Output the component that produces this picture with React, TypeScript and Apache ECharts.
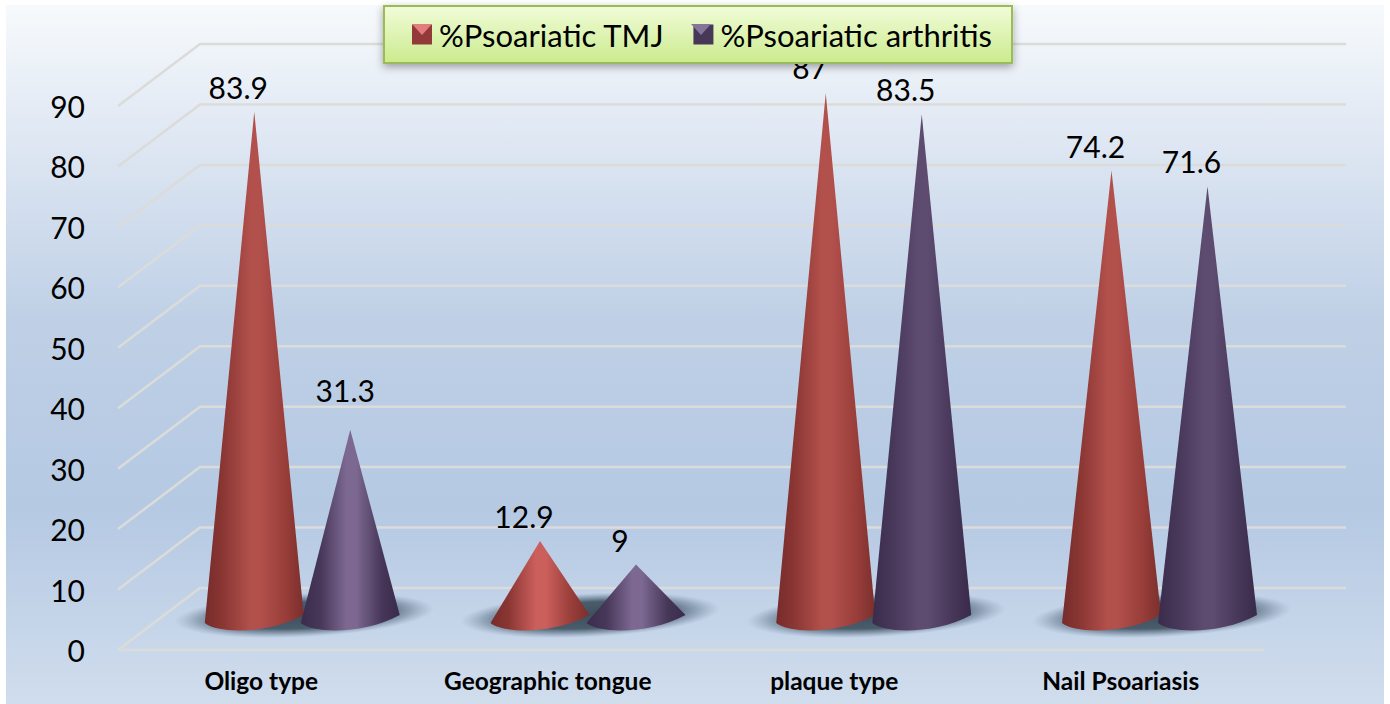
import React, { useEffect, useRef } from "react";
import * as echarts from "echarts";

const categories = ["Oligo type", "Geographic tongue", "plaque type", "Nail Psoariasis"];
const tmjValues = [83.9, 12.9, 87, 74.2];
const arthritisValues = [31.3, 9, 83.5, 71.6];
const yTicks = [0, 10, 20, 30, 40, 50, 60, 70, 80, 90];
const SERIES_A = "%Psoariatic TMJ";
const SERIES_B = "%Psoariatic arthritis";

const FONT = "Lato, Carlito, Calibri, sans-serif";
const DEPTH_X = 82;
const DEPTH_Y = 62;
const MID_X = 41;
const MID_Y = 31;
const PAIR_GAP = 48;
const HALF_BASE = 49.5;
const DRIFT = 0.75;

function hGrad(stops: [number, string][]) {
  return {
    type: "linear", x: 0, y: 0, x2: 1, y2: 0,
    colorStops: stops.map(([offset, color]) => ({ offset, color })),
  };
}
const redGrad = (hi: string) => hGrad([[0, "#762c2b"], [0.18, "#8a3633"], [0.46, hi], [0.56, hi], [0.82, "#983d39"], [1, "#7a2f2d"]]);
const purpleGrad = (hi: string) => hGrad([[0, "#3b2c4c"], [0.2, "#473759"], [0.46, hi], [0.56, hi], [0.82, "#463658"], [1, "#3a2b4a"]]);

function coneSeries(name: string, values: number[], side: number, grad: (h: string) => any, hiTall: string, hiShort: string) {
  return {
    type: "custom", name, z: 3, clip: false,
    data: values.map((v, i) => [categories[i], v]),
    encode: { x: 0, y: 1 },
    itemStyle: { color: side < 0 ? "#93393a" : "#483858" },
    renderItem: (params: any, api: any) => {
      const v = api.value(1);
      const p = api.coord([api.value(0), v]);
      const tx = p[0] + MID_X + side * PAIR_GAP - params.dataIndex * DRIFT;
      const ty = p[1] - MID_Y;
      const l = tx - HALF_BASE;
      const r = tx + HALF_BASE;
      const base = api.coord([api.value(0), 0])[1] - MID_Y;
      const d = `M${tx} ${ty}L${l} ${base + 4}C${l + 14} ${base + 15} ${l + 64} ${base + 15} ${r} ${base - 4}Z`;
      const dx = v === 31.3 ? -5 : -16;
      const dy = v === 31.3 ? -40 : v === 87 ? -26 : -25;
      return {
        type: "group",
        children: [
          { type: "path", shape: { pathData: d }, style: { fill: grad(v < 40 ? hiShort : hiTall) } },
          {
            type: "text",
            style: {
              text: String(v), x: tx + dx, y: ty + dy,
              textAlign: "center", textVerticalAlign: "middle", font: `30px ${FONT}`, fill: "#000",
            },
          },
        ],
      };
    },
  };
}

const option: any = {
  animation: false,
  tooltip: { show: false },
  graphic: [
    {
      type: "rect", z: -10, silent: true,
      shape: { x: 6, y: 5, width: 1378, height: 699 },
      style: {
        fill: {
          type: "linear", x: 0, y: 0, x2: 0, y2: 1,
          colorStops: [
            { offset: 0, color: "#f7fafc" },
            { offset: 0.15, color: "#e4ebf5" },
            { offset: 0.45, color: "#bfd0e6" },
            { offset: 0.72, color: "#b5c9e3" },
            { offset: 1, color: "#d0dded" },
          ],
        },
      },
    },
    { type: "polygon", z: 20, silent: true, shape: { points: [[412, 24], [432, 24], [422, 35]] }, style: { fill: "#e27d7b" } },
    { type: "polygon", z: 20, silent: true, shape: { points: [[691, 24], [711, 24], [701, 35]] }, style: { fill: "#86759b" } },
  ],
  legend: {
    left: 384, top: 6, orient: "horizontal",
    data: [SERIES_A, SERIES_B],
    icon: "rect", itemWidth: 20, itemHeight: 20, itemGap: 29,
    padding: [13, 20, 13, 28],
    backgroundColor: {
      type: "linear", x: 0, y: 0, x2: 0, y2: 1,
      colorStops: [{ offset: 0, color: "#f1fcd8" }, { offset: 1, color: "#cbeb8e" }],
    },
    borderColor: "#9bbb59", borderWidth: 2,
    shadowBlur: 8, shadowColor: "rgba(0,0,0,0.35)", shadowOffsetY: 3,
    textStyle: { fontFamily: FONT, fontSize: 31, color: "#000", padding: [0, 0, 0, 2] },
    selectedMode: false,
  },
  grid: { left: 118, right: 126, top: 106, bottom: 54, containLabel: false },
  xAxis: {
    type: "category", data: categories,
    axisLine: { show: false }, axisTick: { show: false }, splitLine: { show: false },
    axisLabel: { fontFamily: FONT, fontWeight: "bold", fontSize: 24.5, color: "#000", margin: 18 },
  },
  yAxis: {
    type: "value", min: 0, max: 90, interval: 10,
    axisLine: { show: false }, axisTick: { show: false }, splitLine: { show: false },
    axisLabel: { fontFamily: FONT, fontSize: 30, color: "#000", margin: 33 },
  },
  series: [
    {
      type: "custom", name: "grid3d", z: 1, silent: true, clip: false,
      data: yTicks.map((t) => [categories[0], t]),
      encode: { x: 0, y: 1 },
      renderItem: (params: any, api: any) => {
        const t = api.value(1);
        const y = api.coord([0, t])[1];
        const x0 = 118, x1 = 1264;
        const pts = [[x0, y], [x0 + DEPTH_X, y - DEPTH_Y], [x1 + DEPTH_X, y - DEPTH_Y]];
        const children: any[] = [
          { type: "polyline", shape: { points: pts }, style: { stroke: "#dbdbd9", lineWidth: 2.5, fill: "none" } },
        ];
        if (t === 0) {
          children.push({ type: "line", shape: { x1: x0, y1: y, x2: x1, y2: y }, style: { stroke: "#dbdbd9", lineWidth: 2.5 } });
        }
        return { type: "group", children };
      },
    },
    {
      type: "custom", name: "shadows", z: 2, silent: true, clip: false,
      data: categories.map((c) => [c, 0]),
      encode: { x: 0, y: 1 },
      renderItem: (params: any, api: any) => {
        const p = api.coord([api.value(0), 0]);
        const cx = p[0] + MID_X + 2 - params.dataIndex * DRIFT;
        const cy = p[1] - MID_Y - 4;
        return {
          type: "ellipse",
          originX: cx, originY: cy, rotation: 0.05,
          shape: { cx, cy, rx: 130, ry: 22 },
          style: {
            fill: {
              type: "radial", x: 0.5, y: 0.5, r: 0.5,
              colorStops: [
                { offset: 0, color: "rgba(55,72,88,0.95)" },
                { offset: 0.6, color: "rgba(60,80,95,0.9)" },
                { offset: 0.82, color: "rgba(85,105,125,0.45)" },
                { offset: 1, color: "rgba(120,140,165,0)" },
              ],
            },
          },
        };
      },
    },
    coneSeries(SERIES_A, tmjValues, -1, redGrad, "#b2504c", "#cb5f5c"),
    coneSeries(SERIES_B, arthritisValues, 1, purpleGrad, "#5d4b70", "#7c6891"),
  ],
};

export default function App() {
  const ref = useRef<HTMLDivElement>(null);
  useEffect(() => {
    document.body.style.margin = "0";
    document.body.style.background = "#fff";
    const chart = echarts.init(ref.current!, undefined, { renderer: "svg" });
    chart.setOption(option);
    return () => chart.dispose();
  }, []);
  return <div ref={ref} style={{ width: 1390, height: 704 }} />;
}
